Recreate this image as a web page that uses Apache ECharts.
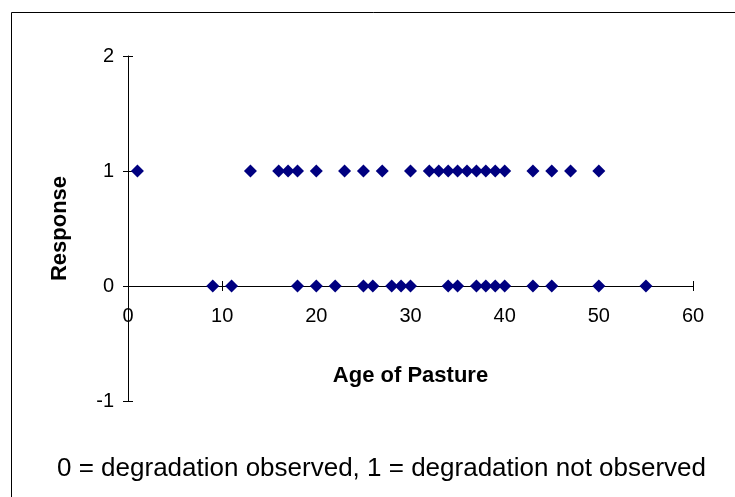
<!DOCTYPE html>
<html>
<head>
<meta charset="utf-8">
<script src="https://cdn.jsdelivr.net/npm/echarts@6/dist/echarts.min.js"></script>
<style>
  html, body { margin: 0; padding: 0; background: #fff; }
  #main { width: 735px; height: 497px; }
</style>
</head>
<body>
<div id="main"></div>
<script>
// ages where degradation was observed (response 0)
const observedAges = [9, 11, 18, 20, 22, 25, 26, 28, 29, 30, 34, 35, 37, 38, 39, 40, 43, 45, 50, 55]
// ages where degradation was not observed (response 1)
const notObservedAges = [1, 13, 16, 17, 18, 20, 23, 25, 27, 30, 32, 33, 34, 35, 36, 37, 38, 39, 40, 43, 45, 47, 50]
const observedResponse = 0
const notObservedResponse = 1
const xTicks = [0, 10, 20, 30, 40, 50, 60]
const yTicks = [-1, 0, 1, 2]

const font = "'Liberation Sans', Arial, sans-serif"
const axisColor = '#000'
// x axis sits on the y = 0 line (grid is 345px tall for 3 units)
const xAxisOffset = -115

let points = observedAges.map(a => [a, observedResponse])
  .concat(notObservedAges.map(a => [a, notObservedResponse]))

let myChart = echarts.init(document.getElementById('main'))

let option = {
  animation: false,
  backgroundColor: '#fff',
  grid: {
    left: 128,
    right: 42,
    top: 56,
    bottom: 96,
    containLabel: false,
    outerBoundsMode: 'none'
  },
  xAxis: [
    {
      type: 'value',
      position: 'bottom',
      offset: xAxisOffset,
      min: xTicks[0],
      max: xTicks[xTicks.length - 1],
      interval: 10,
      name: 'Age of Pasture',
      nameLocation: 'middle',
      nameGap: 79,
      nameTextStyle: { fontFamily: font, fontSize: 22, fontWeight: 'bold', color: '#000' },
      splitLine: { show: false },
      axisLine: { onZero: false, lineStyle: { color: axisColor, width: 1 } },
      axisTick: { show: true, inside: false, length: 5, lineStyle: { color: axisColor } },
      axisLabel: { fontFamily: font, fontSize: 20, color: '#000', margin: 20 }
    },
    {
      // inside half of the cross ticks
      type: 'value',
      position: 'bottom',
      offset: xAxisOffset,
      min: xTicks[0],
      max: xTicks[xTicks.length - 1],
      interval: 10,
      splitLine: { show: false },
      axisLine: { show: false, onZero: false },
      axisTick: { show: true, inside: true, length: 5, lineStyle: { color: axisColor } },
      axisLabel: { show: false }
    }
  ],
  yAxis: [
    {
      type: 'value',
      min: yTicks[0],
      max: yTicks[yTicks.length - 1],
      interval: 1,
      name: 'Response',
      nameLocation: 'middle',
      nameGap: 57,
      nameTextStyle: { fontFamily: font, fontSize: 22, fontWeight: 'bold', color: '#000' },
      splitLine: { show: false },
      axisLine: { show: true, onZero: false, lineStyle: { color: axisColor, width: 1 } },
      axisTick: { show: true, inside: false, length: 5, lineStyle: { color: axisColor } },
      axisLabel: { fontFamily: font, fontSize: 20, color: '#000', margin: 14 }
    },
    {
      type: 'value',
      position: 'left',
      min: yTicks[0],
      max: yTicks[yTicks.length - 1],
      interval: 1,
      splitLine: { show: false },
      axisLine: { show: false, onZero: false },
      axisTick: { show: true, inside: true, length: 5, lineStyle: { color: axisColor } },
      axisLabel: { show: false }
    }
  ],
  graphic: [
    {
      type: 'rect',
      left: 9,
      top: 10,
      shape: { x: 0.5, y: 0.5, width: 800, height: 600 },
      style: { fill: 'none', stroke: '#000', lineWidth: 1 },
      silent: true
    },
    {
      type: 'text',
      left: 57,
      top: 456,
      style: {
        text: '0 = degradation observed, 1 = degradation not observed',
        fontFamily: font,
        fontSize: 26,
        fill: '#000'
      }
    }
  ],
  series: [
    {
      type: 'scatter',
      xAxisIndex: 0,
      yAxisIndex: 0,
      symbol: 'diamond',
      symbolSize: 13,
      itemStyle: { color: '#000080', opacity: 1 },
      data: points
    }
  ]
}

myChart.setOption(option)
</script>
</body>
</html>
